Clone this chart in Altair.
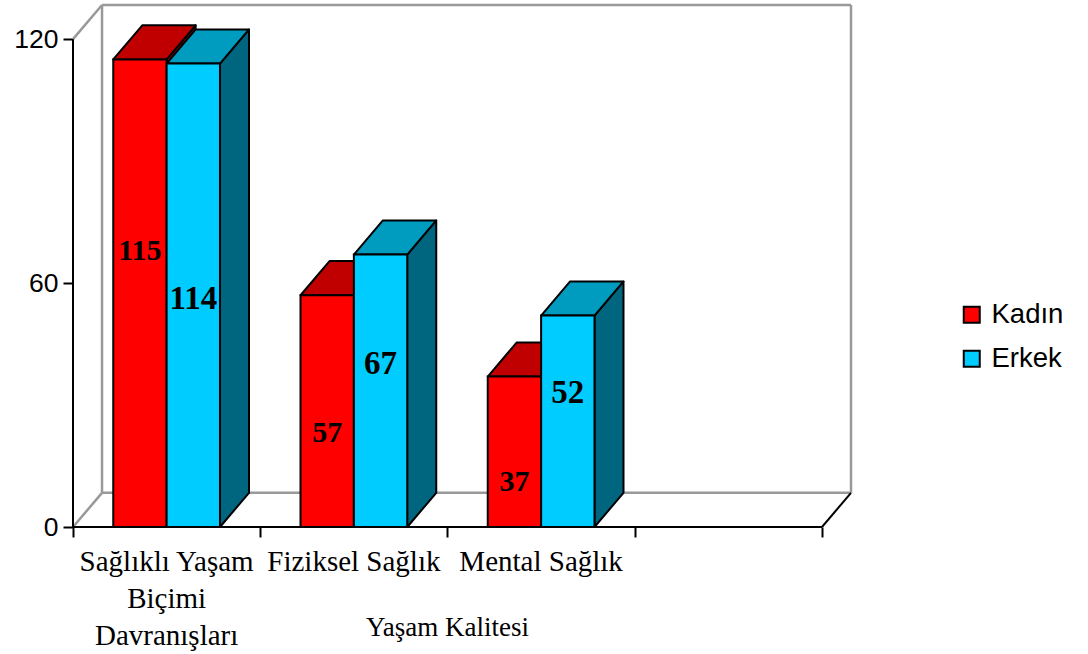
import altair as alt
import pandas as pd

# ---- data ----
categories = ["Sağlıklı Yaşam Biçimi Davranışları", "Fiziksel Sağlık", "Mental Sağlık"]
category_labels = ["Sağlıklı Yaşam\nBiçimi\nDavranışları", "Fiziksel Sağlık", "Mental Sağlık"]
series = ["Kadın", "Erkek"]
kadin = [115, 57, 37]
erkek = [114, 67, 52]
axis_title = "Yaşam Kalitesi"
y_ticks = [0, 60, 120]

# height (in value units) at which each value label is centred on its bar
kadin_label_at = [68, 23, 11]
erkek_label_at = [56, 40, 33]

# ---- styling ----
front_colors = {"Kadın": "#FF0000", "Erkek": "#00CCFF"}
top_colors = {"Kadın": "#C00000", "Erkek": "#009CC0"}
side_colors = {"Kadın": "#900000", "Erkek": "#006680"}
label_sizes = {"Kadın": 30, "Erkek": 33}

BAR_W = 0.285      # bar width, in category slots
DX = 0.155         # 3-D depth, horizontal (category slots)
DY = 8.4           # 3-D depth, vertical (value units)
Y_MAX = 120
N_SLOTS = 4        # floor slots; the last one stays empty

# ---- geometry tables built from the values ----
fronts, tops, sides, labels = [], [], [], []
for i, cat in enumerate(categories):
    centre = i + 0.5
    for s, vals, lab_at in (("Kadın", kadin, kadin_label_at), ("Erkek", erkek, erkek_label_at)):
        v = vals[i]
        x0 = centre - BAR_W if s == "Kadın" else centre
        x1 = x0 + BAR_W
        face = f"{s}-{i}"
        fronts.append({"series": s, "x0": x0, "x1": x1, "v": v})
        tops += [
            {"face": face, "y": v, "xa": x0, "xb": x1, "fill": top_colors[s]},
            {"face": face, "y": v + DY, "xa": x0 + DX, "xb": x1 + DX, "fill": top_colors[s]},
        ]
        sides += [
            {"face": face, "x": x1, "lo": 0, "hi": v, "fill": side_colors[s]},
            {"face": face, "x": x1 + DX, "lo": DY, "hi": v + DY, "fill": side_colors[s]},
        ]
        labels.append({"series": s, "x": (x0 + x1) / 2, "y": lab_at[i],
                       "text": str(v), "size": label_sizes[s]})

fronts = pd.DataFrame(fronts)
tops = pd.DataFrame(tops)
sides = pd.DataFrame(sides)
labels = pd.DataFrame(labels)

wall = pd.DataFrame([
    {"x": DX, "y": DY, "x2": DX, "y2": Y_MAX + DY},
    {"x": DX, "y": Y_MAX + DY, "x2": N_SLOTS + DX, "y2": Y_MAX + DY},
    {"x": N_SLOTS + DX, "y": DY, "x2": N_SLOTS + DX, "y2": Y_MAX + DY},
    {"x": DX, "y": DY, "x2": N_SLOTS + DX, "y2": DY},
    {"x": 0, "y": Y_MAX, "x2": DX, "y2": Y_MAX + DY},
    {"x": 0, "y": 0, "x2": DX, "y2": DY},
])
edges = pd.DataFrame([
    {"x": 0, "y": 0, "x2": N_SLOTS, "y2": 0},
    {"x": 0, "y": 0, "x2": 0, "y2": Y_MAX},
    {"x": N_SLOTS, "y": 0, "x2": N_SLOTS + DX, "y2": DY},
])
cat_df = pd.DataFrame({"x": [i + 0.5 for i in range(len(categories))], "label": category_labels})
title_df = pd.DataFrame({"x": [len(categories) / 2 + 0.5], "label": [axis_title]})

# ---- shared scales / axes ----
XS = alt.Scale(domain=[0, N_SLOTS + DX], nice=False, zero=False)
YS = alt.Scale(domain=[0, Y_MAX + DY], nice=False, zero=False)
X_AXIS = alt.Axis(values=list(range(N_SLOTS + 1)), labels=False, tickSize=10, tickWidth=2,
                  tickColor="black", domain=False, grid=False, title=None)
Y_AXIS = alt.Axis(values=y_ticks, tickSize=10, tickWidth=2, tickColor="black", domain=False,
                  grid=False, title=None, labelFont="Liberation Sans", labelFontSize=26.5,
                  labelColor="black", labelPadding=5)


def X(field):
    return alt.X(field, type="quantitative", scale=XS, axis=X_AXIS)


def Y(field):
    return alt.Y(field, type="quantitative", scale=YS, axis=Y_AXIS)


wall_layer = alt.Chart(wall).mark_rule(color="#999999", strokeWidth=2.5).encode(
    x=X("x"), y=Y("y"), x2="x2:Q", y2="y2:Q"
)

side_layer = alt.Chart(sides).mark_area(orient="vertical", stroke="black", strokeWidth=2,
                                        strokeJoin="round").encode(
    x=X("x"), y=Y("lo"), y2="hi:Q", detail="face:N", fill=alt.Fill("fill:N", scale=None)
)

top_layer = alt.Chart(tops).mark_area(orient="horizontal", stroke="black", strokeWidth=2,
                                      strokeJoin="round").encode(
    y=Y("y"), x=X("xa"), x2="xb:Q", detail="face:N", fill=alt.Fill("fill:N", scale=None)
)

front_layer = alt.Chart(fronts).mark_rect(stroke="black", strokeWidth=2).encode(
    x=X("x0"), x2="x1:Q", y=Y("v"), y2=alt.datum(0),
    color=alt.Color(
        "series:N",
        scale=alt.Scale(domain=series, range=[front_colors[s] for s in series]),
        legend=alt.Legend(orient="none", legendX=885, legendY=296, title=None,
                          symbolType="square", symbolSize=256, symbolStrokeColor="black",
                          symbolStrokeWidth=2, symbolOpacity=1,
                          labelFont="Liberation Sans", labelFontSize=27.5, labelColor="black",
                          labelOffset=6, rowPadding=15, padding=0),
    ),
)

edge_layer = alt.Chart(edges).mark_rule(color="black", strokeWidth=2).encode(
    x=X("x"), y=Y("y"), x2="x2:Q", y2="y2:Q"
)

value_layer = alt.Chart(labels).mark_text(font="Liberation Serif", fontWeight="bold",
                                          color="black", baseline="middle").encode(
    x=X("x"), y=Y("y"), text="text:N", size=alt.Size("size:Q", scale=None)
)

cat_layer = alt.Chart(cat_df).mark_text(font="Liberation Serif", fontSize=29, color="black",
                                        baseline="alphabetic", lineBreak="\n",
                                        lineHeight=37).encode(
    x=X("x"), y=alt.value(566), text="label:N"
)

title_layer = alt.Chart(title_df).mark_text(font="Liberation Serif", fontSize=27, color="black",
                                            baseline="alphabetic").encode(
    x=X("x"), y=alt.value(631), text="label:N"
)

chart = alt.layer(
    wall_layer, side_layer, top_layer, front_layer, edge_layer,
    value_layer, cat_layer, title_layer,
).properties(
    width=778, height=522,
    autosize=alt.AutoSizeParams(type="none"),
    padding={"left": 73, "top": 5, "right": 237, "bottom": 127},
    background="white",
).configure_view(stroke=None)

chart.save("out.html", embed_options={"renderer": "svg", "actions": False})
